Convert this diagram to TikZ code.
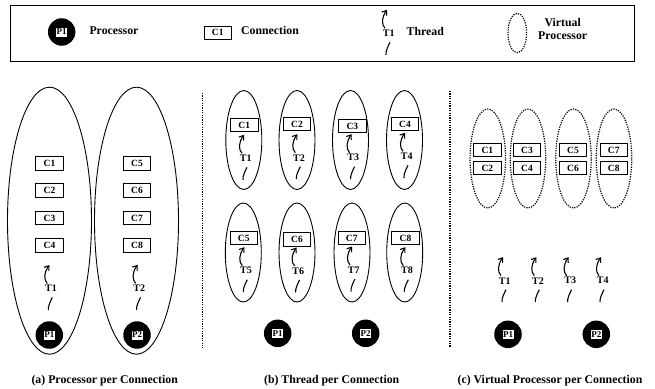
\documentclass[tikz,border=0pt]{standalone}
\usepackage{fontspec}
\setmainfont{Liberation Serif}
\usepackage{tikz}
\usetikzlibrary{arrows.meta, positioning, shapes.geometric}

\tikzset{
  conn/.style={draw, line width=0.9pt, minimum width=27.5pt, minimum height=13.5pt, inner sep=0pt, font=\fontsize{9.5}{10}\selectfont\bfseries},
  bigproc/.style={draw, ellipse, line width=0.9pt, minimum width=84pt, minimum height=267pt, inner sep=0pt},
  threadproc/.style={draw, ellipse, line width=0.9pt, minimum width=36pt, minimum height=99pt, inner sep=0pt},
  virtproc/.style={draw, ellipse, dash pattern=on 1.2pt off 1.2pt, line width=1.2pt, minimum width=35.5pt, minimum height=99pt, inner sep=0pt},
  cpu/.style={circle, fill=black, minimum size=27.5pt, inner sep=0pt},
  cpulabel/.style={fill=white, text=black, minimum width=11pt, minimum height=9pt, inner sep=0pt, font=\fontsize{9}{9}\selectfont\bfseries},
  threadlabel/.style={inner sep=0pt, font=\fontsize{10}{10}\selectfont\bfseries},
  caption/.style={inner sep=0pt, font=\fontsize{11.8}{13}\selectfont\bfseries},
  divider/.style={dash pattern=on 1.2pt off 1.2pt, line width=1.2pt},
  threadtip/.style={line width=1.1pt, -{Straight Barb[length=4pt,width=6pt]}},
  threadtail/.style={line width=1.1pt}
}

\newcommand{\threadmark}[4]{
  \node (#1) [threadlabel] at (#2,#3) {#4};
  \coordinate (#1up) at ([shift={(-3.7,-5)}]#1);
  \coordinate (#1tip) at ([shift={(-1.7,-23.5)}]#1);
  \coordinate (#1low) at ([shift={(1.3,9)}]#1);
  \coordinate (#1end) at ([shift={(-2.7,21.5)}]#1);
  \draw[threadtip] (#1up) .. controls ([shift={(-3.8,-4)}]#1up) and ([shift={(-5.3,7.5)}]#1tip) .. (#1tip);
  \draw[threadtail] (#1low) .. controls ([shift={(-1.5,3)}]#1low) and ([shift={(-0.5,-4)}]#1end) .. (#1end);
}
\newcommand{\cpumark}[4]{
  \node (#1) [cpu] at (#2,#3) {};
  \node (#1l) [cpulabel] at (#1) {#4};
}

\begin{document}
\begin{tikzpicture}[x=1pt, y=-1pt]
  \useasboundingbox (0,0) rectangle (655,388);

  \node (legend) [draw, line width=1pt, minimum width=623.5pt, minimum height=56.5pt, inner sep=0pt] at (322.3,33.3) {};
  \cpumark{lp}{61.7}{32}{P1}
  \node (lptext) [caption] at (114,30.3) {Processor};
  \node (lc) [conn] at (217.8,32.8) {C1};
  \node (lctext) [caption, right=9pt of lc.east, yshift=2.5pt] {Connection};
  \threadmark{lt}{388.7}{33.3}{T1}
  \node (lttext) [caption] at (425.3,31) {Thread};
  \node (lv) [virtproc, minimum width=18.6pt, minimum height=39.4pt] at (517.3,33) {};
  \node (lvtext) [caption, align=center] at (562.7,29) {Virtual\\Processor};

  \node (ea1) [bigproc] at (49.5,220.7) {};
  \node (ea2) [bigproc] at (136.5,220.7) {};
  \foreach \name/\px/\py/\txt in {a1/49.5/163.5/C1, a2/49.5/190.5/C2, a3/49.5/218/C3, a4/49.5/245.6/C4,
    a5/137/163.5/C5, a6/137/190.5/C6, a7/137/218/C7, a8/137/245.6/C8}
    \node (\name) [conn] at (\px,\py) {\txt};
  \threadmark{ta1}{51}{288.5}{T1}
  \threadmark{ta2}{139.3}{288.3}{T2}
  \cpumark{pa1}{49.3}{335}{P1}
  \cpumark{pa2}{137}{335}{P2}
  \node (capa) [caption] at (104.7,380.5) {(a) Processor per Connection};

  \coordinate (dl1) at (202.5,93);
  \coordinate (dl2) at (202.5,348);
  \draw[divider] (dl1) -- (dl2);

  \foreach \name/\px/\py in {eb1/243.8/140, eb2/297/140, eb3/350.5/140, eb4/404.5/140,
    eb5/243.3/252.5, eb6/297/252.5, eb7/352/252.5, eb8/404.7/252.5}
    \node (\name) [threadproc] at (\px,\py) {};
  \foreach \name/\px/\py/\txt in {b1/244.3/125/C1, b2/297/124/C2, b3/352.3/126/C3, b4/405/124/C4,
    b5/243.7/238/C5, b6/297/239.5/C6, b7/351.7/238/C7, b8/405.5/238/C8}
    \node (\name) [conn] at (\px,\py) {\txt};
  \threadmark{tb1}{245.7}{158.3}{T1}
  \threadmark{tb2}{299}{157.7}{T2}
  \threadmark{tb3}{353.3}{157.7}{T3}
  \threadmark{tb4}{406.7}{156.3}{T4}
  \threadmark{tb5}{246}{270.7}{T5}
  \threadmark{tb6}{298.3}{271}{T6}
  \threadmark{tb7}{353.7}{270}{T7}
  \threadmark{tb8}{407}{270.7}{T8}
  \cpumark{pb1}{277.7}{333.3}{P1}
  \cpumark{pb2}{365.7}{333.3}{P2}
  \node (capb) [caption] at (331.7,380.5) {(b) Thread per Connection};

  \coordinate (dr1) at (450,91);
  \coordinate (dr2) at (450,347);
  \draw[divider] (dr1) -- (dr2);

  \foreach \name/\px in {ec1/487.8, ec2/528, ec3/573.5, ec4/614}
    \node (\name) [virtproc] at (\px,158.5) {};
  \foreach \name/\px/\py/\txt in {c1/487.3/150/C1, c2/487.3/168/C2, c3/527/150/C3, c4/527/168/C4,
    c5/573/150/C5, c6/573/168/C6, c7/613.7/150/C7, c8/613.7/168/C8}
    \node (\name) [conn] at (\px,\py) {\txt};
  \threadmark{tc1}{504.7}{280.7}{T1}
  \threadmark{tc2}{538}{280.7}{T2}
  \threadmark{tc3}{570.3}{280.7}{T3}
  \threadmark{tc4}{602.7}{280.7}{T4}
  \cpumark{pc1}{508}{334.3}{P1}
  \cpumark{pc2}{596.3}{334.3}{P2}
  \node (capc) [caption] at (550,381) {(c) Virtual Processor per Connection};
\end{tikzpicture}
\end{document}
